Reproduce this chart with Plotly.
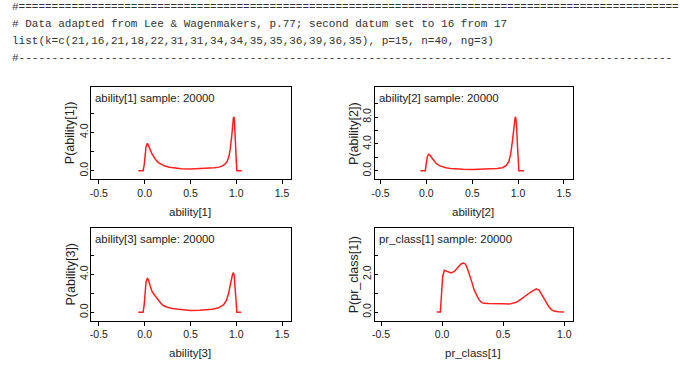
import plotly.graph_objects as go

W, H = 680, 376

# ---- data ----
header_lines = [
    "#" + "=" * 100,
    "# Data adapted from Lee & Wagenmakers, p.77; second datum set to 16 from 17",
    "list(k=c(21,16,21,18,22,31,31,34,34,35,35,36,39,36,35), p=15, n=40, ng=3)",
    "#" + "-" * 99,
]

ability1_x = [-0.07, -0.017, -0.005, 0.005, 0.015, 0.03, 0.045, 0.06, 0.08, 0.10, 0.12, 0.15, 0.18,
              0.22, 0.27, 0.33, 0.40, 0.50, 0.60, 0.70, 0.76, 0.81, 0.85, 0.88, 0.90, 0.92, 0.935,
              0.95, 0.96, 0.97, 0.978, 0.985, 0.992, 1.0, 1.007, 1.06]
ability1_y = [0, 0, 0.6, 1.8, 2.5, 2.86, 2.6, 2.2, 1.75, 1.4, 1.14, 0.85, 0.65,
              0.48, 0.35, 0.26, 0.2, 0.18, 0.2, 0.25, 0.3, 0.37, 0.5, 0.7, 0.97, 1.5, 2.3,
              3.6, 4.8, 5.6, 5.5, 4.5, 2.8, 1.0, 0, 0]

ability2_x = [-0.065, -0.012, 0.0, 0.01, 0.025, 0.04, 0.06, 0.08, 0.105, 0.14, 0.18, 0.214, 0.26,
              0.32, 0.4, 0.5, 0.6, 0.7, 0.77, 0.83, 0.87, 0.9, 0.92, 0.94, 0.955, 0.968, 0.975,
              0.985, 0.995, 1.01, 1.065]
ability2_y = [0, 0, 1.2, 2.1, 2.45, 2.3, 1.9, 1.5, 1.1, 0.75, 0.55, 0.45, 0.33,
              0.25, 0.2, 0.19, 0.2, 0.25, 0.32, 0.45, 0.75, 1.35, 2.5, 4.5, 6.5, 7.9, 8.0,
              6.5, 3.5, 0, 0]

ability3_x = [-0.07, -0.017, -0.005, 0.005, 0.015, 0.03, 0.045, 0.06, 0.08, 0.1, 0.12, 0.15, 0.19,
              0.23, 0.3, 0.37, 0.45, 0.5, 0.6, 0.68, 0.735, 0.8, 0.86, 0.89, 0.917, 0.935, 0.95,
              0.962, 0.97, 0.978, 0.987, 0.997, 1.007, 1.055]
ability3_y = [0, 0, 0.8, 2.3, 3.2, 3.6, 3.3, 2.8, 2.2, 1.9, 1.64, 1.2, 0.8,
              0.59, 0.4, 0.32, 0.24, 0.2, 0.22, 0.27, 0.32, 0.45, 0.77, 1.2, 2.0, 2.9, 3.7,
              4.1, 4.17, 3.8, 2.6, 1.0, 0, 0]

prclass1_x = [-0.043, -0.014, -0.005, 0.005, 0.019, 0.04, 0.073, 0.1, 0.13, 0.155, 0.174, 0.19,
              0.205, 0.223, 0.243, 0.263, 0.285, 0.304, 0.325, 0.345, 0.38, 0.44, 0.5, 0.549,
              0.6, 0.63, 0.665, 0.698, 0.735, 0.772, 0.795, 0.82, 0.845, 0.874, 0.895, 0.915,
              0.95, 0.997]
prclass1_y = [0, 0, 0.9, 1.9, 2.21, 2.15, 2.07, 2.15, 2.38, 2.55, 2.6, 2.55,
              2.35, 2.04, 1.6, 1.16, 0.85, 0.63, 0.5, 0.46, 0.45, 0.46, 0.44, 0.42,
              0.5, 0.6, 0.75, 0.93, 1.1, 1.23, 1.15, 0.9, 0.6, 0.28, 0.13, 0.05,
              0.01, 0]

panel_names = ["ability[1]", "ability[2]", "ability[3]", "pr_class[1]"]
sample_label = "sample: 20000"

x_tickvals = [[-0.5, 0.0, 0.5, 1.0, 1.5], [-0.5, 0.0, 0.5, 1.0, 1.5],
              [-0.5, 0.0, 0.5, 1.0, 1.5], [-0.5, 0.0, 0.5, 1.0]]
x_ticktext = [["-0.5", "0.0", "0.5", "1.0", "1.5"], ["-0.5", "0.0", "0.5", "1.0", "1.5"],
              ["-0.5", "0.0", "0.5", "1.0", "1.5"], ["-0.5", "0.0", "0.5", "1.0"]]
y_tickvals = [[0, 2, 4, 6], [0, 2, 4, 6, 8, 10], [0, 2, 4, 6], [0, 1, 2, 3]]
y_ticktext = [["0.0", "", "4.0", ""], ["0.0", "", "4.0", "", "8.0", ""],
              ["0.0", "", "4.0", ""], ["0.0", "", "2.0", ""]]

xs = [ability1_x, ability2_x, ability3_x, prclass1_x]
ys = [ability1_y, ability2_y, ability3_y, prclass1_y]

# ---- layout geometry (pixels) ----
boxes = [  # x0, x1, y0(top), y1(bottom)
    (88.3, 289.3, 87.3, 179.0),
    (373.3, 572.3, 87.3, 179.0),
    (88.3, 289.3, 228.3, 320.7),
    (373.3, 572.3, 228.3, 320.7),
]
x_ranges = [[-0.587, 1.598], [-0.565, 1.598], [-0.587, 1.598], [-0.552, 1.07]]
y_ranges = [[-0.87, 8.71], [-1.24, 12.45], [-0.88, 8.84], [-0.46, 4.44]]

def fx(px):
    return px / W

def fy(py):
    return 1 - py / H

FONT = "Liberation Sans, Arial, sans-serif"
TXT = "#222222"
RED = "#ff2020"

fig = go.Figure()
annotations = []
for i in range(4):
    n = "" if i == 0 else str(i + 1)
    fig.add_trace(go.Scatter(x=xs[i], y=ys[i], mode="lines",
                             line=dict(color=RED, width=1.5),
                             xaxis="x" + n, yaxis="y" + n, showlegend=False,
                             hoverinfo="skip"))
    x0, x1, y0, y1 = boxes[i]
    fig.layout["xaxis" + n] = dict(
        domain=[fx(x0), fx(x1)], range=x_ranges[i], anchor="y" + n,
        showline=True, mirror=True, linecolor="black", linewidth=1,
        showgrid=False, zeroline=False, ticks="outside", ticklen=4, tickcolor="black",
        tickvals=x_tickvals[i], ticktext=x_ticktext[i],
        tickfont=dict(family=FONT, size=10.5, color=TXT), fixedrange=True)
    fig.layout["yaxis" + n] = dict(
        domain=[fy(y1), fy(y0)], range=y_ranges[i], anchor="x" + n,
        showline=True, mirror=True, linecolor="black", linewidth=1,
        showgrid=False, zeroline=False, ticks="inside", ticklen=3, tickcolor="black",
        tickvals=y_tickvals[i], ticktext=y_ticktext[i], tickangle=-90,
        ticklabelstandoff=-2,
        tickfont=dict(family=FONT, size=10.5, color=TXT), fixedrange=True)
    # title inside panel
    annotations.append(dict(text=f"{panel_names[i]} {sample_label}",
                            xref="paper", yref="paper", x=fx(x0 + 2), y=fy(y0 + 3),
                            xanchor="left", yanchor="top", showarrow=False,
                            font=dict(family=FONT, size=11.4, color=TXT)))
    # x axis title
    annotations.append(dict(text=panel_names[i], xref="paper", yref="paper",
                            x=fx((x0 + x1) / 2 - 1), y=fy(y1 + 32.7),
                            xanchor="center", yanchor="middle", showarrow=False,
                            font=dict(family=FONT, size=11.5, color=TXT)))
    # y axis title
    annotations.append(dict(text=f"P({panel_names[i]})", xref="paper", yref="paper",
                            x=fx(x0 - 21), y=fy((y0 + y1) / 2),
                            xanchor="center", yanchor="middle", textangle=-90,
                            showarrow=False,
                            font=dict(family=FONT, size=12.5, color=TXT)))

line_y = [7, 24.5, 41.5, 57.5]
for txt, py in zip(header_lines, line_y):
    annotations.append(dict(text=txt.replace(" ", "&nbsp;"), xref="paper", yref="paper",
                            x=fx(7), y=fy(py), xanchor="left", yanchor="middle",
                            showarrow=False,
                            font=dict(family="Liberation Mono, Courier New, monospace",
                                      size=11, color="#333333")))

fig.update_layout(width=W, height=H, margin=dict(l=0, r=0, t=0, b=0),
                  paper_bgcolor="white", plot_bgcolor="white",
                  annotations=annotations)

fig.write_html("out.html", config={"displayModeBar": False},
               post_script="document.body.style.margin='0';document.body.style.overflow='hidden';")
